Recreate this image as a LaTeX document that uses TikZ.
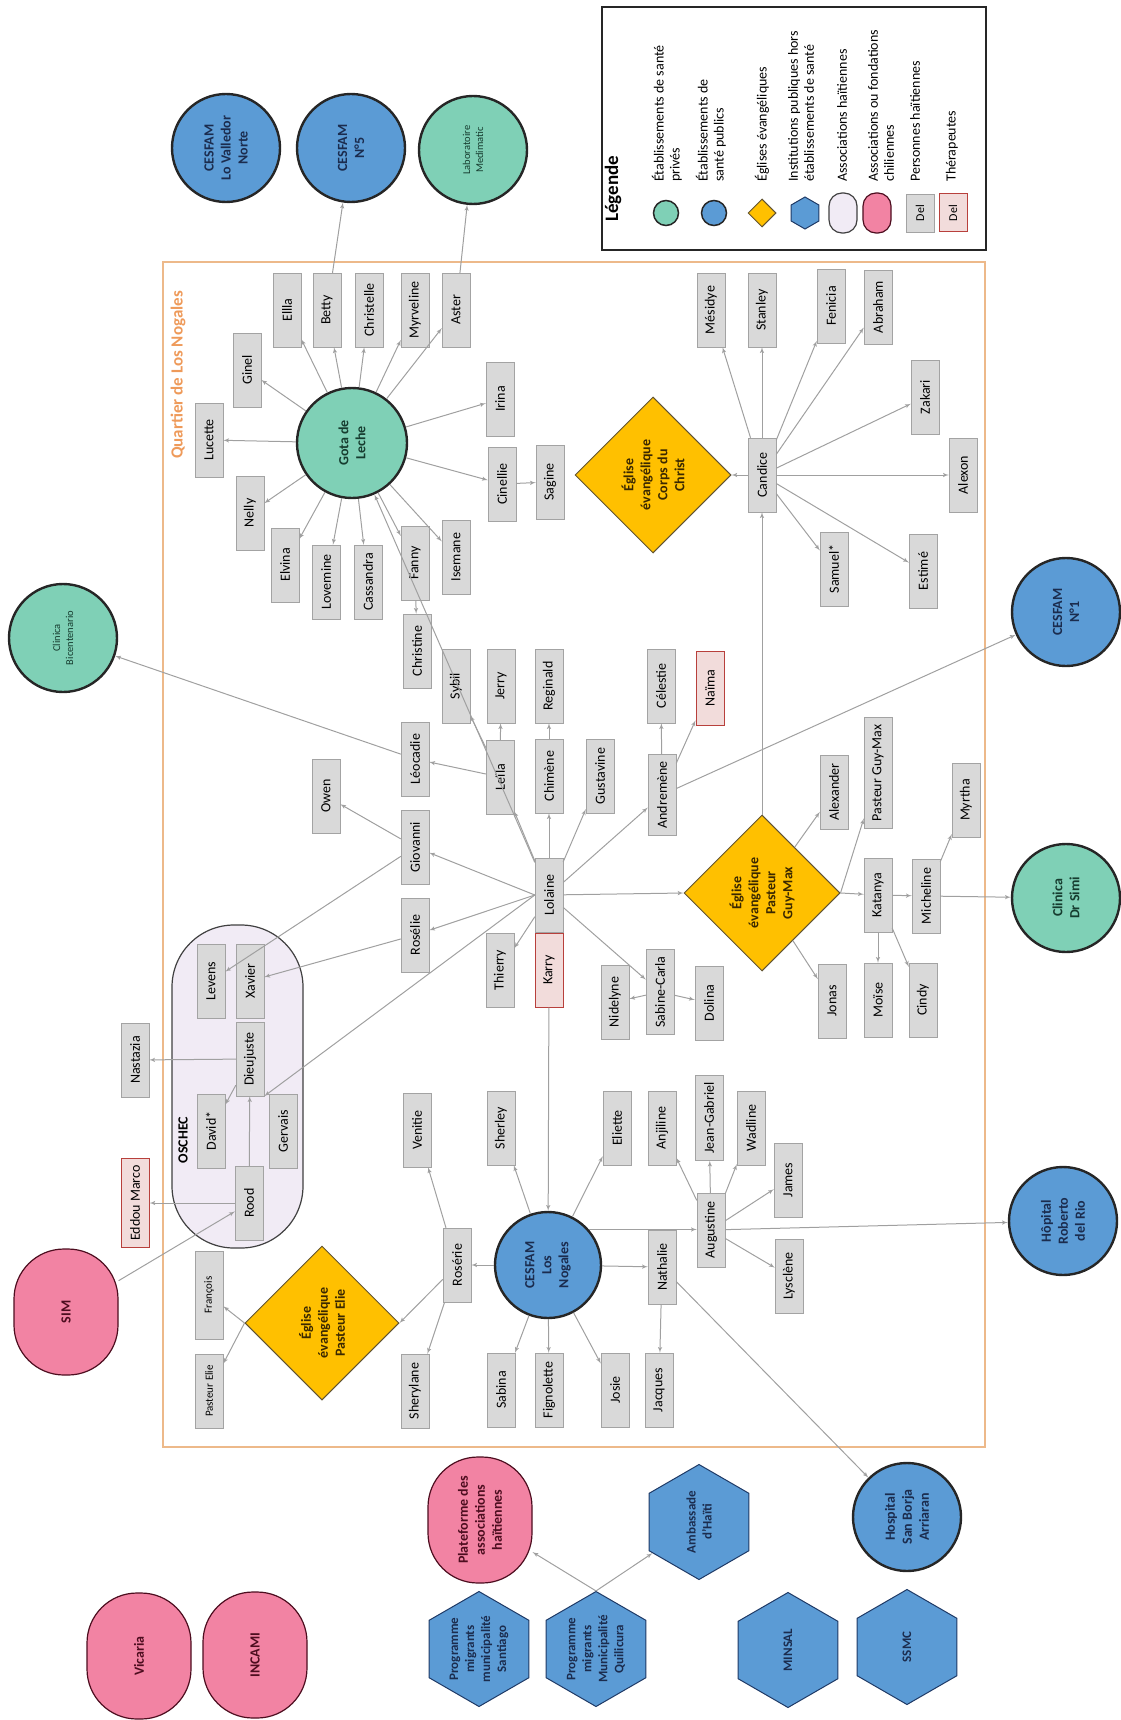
\documentclass[tikz,border=0pt]{standalone}
\usepackage{fontspec}
\setmainfont{Carlito}
\usepackage{tikz}
\usetikzlibrary{arrows, shapes}

\definecolor{privfill}{HTML}{7FD0B6}
\definecolor{pubfill}{HTML}{5B9BD5}
\definecolor{goldfill}{HTML}{FFC000}
\definecolor{pinkfill}{HTML}{F283A3}
\definecolor{lilacfill}{HTML}{F1EBF5}
\definecolor{boxfill}{HTML}{D9D9D9}
\definecolor{boxline}{HTML}{A3A3A3}
\definecolor{therafill}{HTML}{F2DCDB}
\definecolor{theraline}{HTML}{B8403C}
\definecolor{linkgray}{HTML}{A0A0A0}
\definecolor{quartierline}{HTML}{EDB98A}
\definecolor{quartiertext}{HTML}{EE9A5A}
\definecolor{navytext}{HTML}{1B2C4E}
\definecolor{greentext}{HTML}{163C2F}
\definecolor{browntext}{HTML}{3A2800}
\definecolor{maroontext}{HTML}{4D0D1F}
\definecolor{hexline}{HTML}{1F3A66}

\begin{document}
\begin{tikzpicture}
  [x=1pt, y=-1pt, > = latex',
    person/.style ={
        rectangle,
        rotate=90,
        draw=boxline,
        fill=boxfill,
        minimum width=74pt,
        minimum height=28pt,
        inner xsep=7pt, inner ysep=3pt,
        font=\fontsize{14}{16}\selectfont,
      },
    smallperson/.style ={person, font=\fontsize{11}{13}\selectfont},
    therapist/.style ={person, draw=theraline, fill=therafill, line width=1pt},
    private/.style ={
        circle,
        rotate=90,
        draw=black!85,
        line width=2.4pt,
        fill=privfill,
        minimum size=108pt,
        inner sep=1pt,
        align=center,
        text=greentext,
        font=\bfseries\fontsize{14}{17}\selectfont,
      },
    public/.style ={private, fill=pubfill, text=navytext},
    church/.style ={
        diamond,
        rotate=90,
        draw=browntext!80,
        line width=1pt,
        fill=goldfill,
        minimum size=156pt,
        inner sep=0pt,
        align=center,
        text=browntext,
        font=\bfseries\fontsize{14}{17}\selectfont,
      },
    institution/.style ={
        regular polygon, regular polygon sides=6,
        rotate=90,
        draw=hexline,
        line width=1pt,
        fill=pubfill,
        minimum size=115pt,
        inner sep=0pt,
        align=center,
        text=navytext,
        font=\bfseries\fontsize{13}{16}\selectfont,
      },
    chilean/.style ={
        rectangle,
        rounded corners=50pt,
        rotate=90,
        draw=maroontext,
        line width=1.2pt,
        fill=pinkfill,
        minimum width=126pt,
        minimum height=104pt,
        align=center,
        text=maroontext,
        font=\bfseries\fontsize{14}{17}\selectfont,
      },
    haitian/.style ={rectangle, rounded corners=62pt, rotate=90, draw=black!75, line width=1.2pt, fill=lilacfill},
    link/.style ={->, draw=linkgray, line width=1pt},
    legtext/.style ={rotate=90, anchor=west, inner sep=0pt, align=left, font=\fontsize{14}{16}\selectfont},
  ]
  \useasboundingbox (0,0) rectangle (1120,1720);

  % legend
  \draw[line width=1.5pt, draw=black!85] (602,7) rectangle (986,250);
  \node[legtext, font=\bfseries\fontsize{19}{22}\selectfont] (legtitle) at (613,222) {Légende};
  \node[private, minimum size=25pt, line width=1.5pt] (legpriv) at (666,213) {};
  \node[legtext] (legtxtpriv) at (667,182) {Établissements de santé\\privés};
  \node[public, minimum size=25pt, line width=1.5pt] (legpub) at (714,213) {};
  \node[legtext] (legtxtpub) at (711,182) {Établissements de\\santé publics};
  \node[church, minimum size=28pt] (legchurch) at (762,213) {};
  \node[legtext] (legtxtchurch) at (762,182) {Églises évangéliques};
  \node[institution, minimum size=32pt] (leginst) at (805,213) {};
  \node[legtext] (legtxtinst) at (801,182) {Institutions publiques hors\\établissements de santé};
  \node[haitian, rounded corners=13pt, minimum width=40pt, minimum height=28pt] (leghait) at (843,213) {};
  \node[legtext] (legtxthait) at (842,182) {Associations haïtiennes};
  \node[chilean, rounded corners=13pt, minimum width=40pt, minimum height=28pt] (legchil) at (877,213) {};
  \node[legtext] (legtxtchil) at (881,182) {Associations ou fondations\\chiliennes};
  \node[person, minimum width=38pt, inner xsep=2pt, font=\fontsize{12}{14}\selectfont] (legperson) at (920,213) {Del};
  \node[legtext] (legtxtperson) at (915,182) {Personnes haïtiennes};
  \node[therapist, minimum width=38pt, inner xsep=2pt, font=\fontsize{12}{14}\selectfont] (legthera) at (953,213) {Del};
  \node[legtext] (legtxtthera) at (952,182) {Thérapeutes};

  % quartier
  \draw[draw=quartierline, line width=1.2pt] (163,262) rectangle (985,1447);
  \node[rotate=90, text=quartiertext, font=\bfseries\fontsize{17}{20}\selectfont] (quartiertitle) at (178,375) {Quartier de Los Nogales};

  \node[haitian, minimum width=323pt, minimum height=131pt] (oschec) at (237.5,1086.5) {};
  \node[rotate=90, font=\bfseries\fontsize{14}{16}\selectfont] (oschectitle) at (183,1140) {OSCHEC};

  % health centres
  \node[public] (valledor) at (226,148) {CESFAM\\Lo Valledor\\Norte};
  \node[public] (cesfamfive) at (351,148) {CESFAM\\N°5};
  \node[private, font=\fontsize{10.5}{13}\selectfont] (labo) at (473,150) {Laboratoire\\Medimatic};
  \node[private, font=\fontsize{10.5}{13}\selectfont] (bicent) at (63,638) {Clinica\\Bicentenario};
  \node[public] (cesfamone) at (1066,612) {CESFAM\\N°1};
  \node[private] (drsimi) at (1066,898) {Clinica\\Dr Simi};
  \node[public] (roberto) at (1063,1221) {Hôpital\\Roberto\\del Rio};
  \node[public] (sanborja) at (907,1517) {Hospital\\San Borja\\Arriaran};
  \node[private, minimum size=110pt] (gota) at (352,443) {Gota de\\Leche};
  \node[public, minimum size=106pt] (losnogales) at (548,1265) {CESFAM\\Los\\Nogales};

  % churches
  \node[church] (corps) at (653,475) {Église\\évangélique\\Corps du\\Christ};
  \node[church] (guymax) at (762,893) {Église\\évangélique\\Pasteur\\Guy-Max};
  \node[church, minimum size=154pt] (elie) at (322,1323) {Église\\évangélique\\Pasteur Elie};

  % associations and institutions
  \node[chilean] (sim) at (66,1312) {SIM};
  \node[chilean] (vicaria) at (139,1656) {Vicaria};
  \node[chilean] (incami) at (255,1655) {INCAMI};
  \node[chilean] (plateforme) at (480,1520) {Plateforme des\\associations\\haïtiennes};
  \node[institution] (santiago) at (479,1649) {Programme\\migrants\\municipalité\\Santiago};
  \node[institution] (quilicura) at (596,1649) {Programme\\migrants\\Municipalité\\Quilicura};
  \node[institution] (ambassade) at (699,1522) {Ambassade\\d'Haïti};
  \node[institution] (minsal) at (788,1650) {MINSAL};
  \node[institution] (ssmc) at (907,1647) {SSMC};

  % people
  \node[person] (ellla) at (287,310) {Ellla};
  \node[person] (betty) at (327,310) {Betty};
  \node[person] (christelle) at (369,310) {Christelle};
  \node[person] (myrveline) at (415,310) {Myrveline};
  \node[person] (aster) at (456,310) {Aster};
  \node[person] (ginel) at (247,370) {Ginel};
  \node[person] (lucette) at (209,440) {Lucette};
  \node[person] (nelly) at (250,513) {Nelly};
  \node[person] (elvina) at (285,565) {Elvina};
  \node[person] (lovemine) at (326,582) {Lovemine};
  \node[person] (cassandra) at (368,582) {Cassandra};
  \node[person] (fanny) at (415,563) {Fanny};
  \node[person] (christine) at (417,651) {Christine};
  \node[person] (isemane) at (456,557) {Isemane};
  \node[person] (cinellie) at (502,484) {Cinellie};
  \node[person] (sagine) at (550,482) {Sagine};
  \node[person] (irina) at (500,399) {Irina};

  \node[person] (mesidye) at (711,310) {Mésidye};
  \node[person] (stanley) at (762,310) {Stanley};
  \node[person] (fenicia) at (831,306) {Fenicia};
  \node[person] (abraham) at (878,307) {Abraham};
  \node[person] (zakari) at (925,397) {Zakari};
  \node[person] (alexon) at (963,475) {Alexon};
  \node[person] (estime) at (923,571) {Estimé};
  \node[person] (samuel) at (834,569) {Samuel*};
  \node[person] (candice) at (762,475) {Candice};

  \node[person] (leocadie) at (415,759) {Léocadie};
  \node[person] (giovanni) at (415,847) {Giovanni};
  \node[person] (owen) at (326,796) {Owen};
  \node[person] (sybil) at (456,686) {Sybil};
  \node[person] (jerry) at (501,686) {Jerry};
  \node[person] (reginald) at (549,686) {Reginald};
  \node[person] (leila) at (500,777) {Leïla};
  \node[person] (chimene) at (549,776) {Chimène};
  \node[person] (gustavine) at (600,776) {Gustavine};
  \node[person] (celestie) at (661,686) {Célestie};
  \node[therapist] (naima) at (710,688) {Naïma};
  \node[person] (andremene) at (662,795) {Andremène};

  \node[person] (lolaine) at (549,895) {Lolaine};
  \node[therapist] (karry) at (549,970) {Karry};
  \node[person] (thierry) at (500,970) {Thierry};
  \node[person] (roselie) at (415,935) {Rosélie};
  \node[person] (sabinecarla) at (660,992) {Sabine-Carla};
  \node[person] (nidelyne) at (615,1002) {Nidelyne};
  \node[person] (dolina) at (709,1003) {Dolina};

  \node[person] (alexander) at (834,792) {Alexander};
  \node[person] (pasteurgm) at (878,773) {Pasteur Guy-Max};
  \node[person] (myrtha) at (966,800) {Myrtha};
  \node[person] (katanya) at (878,895) {Katanya};
  \node[person] (micheline) at (926,896) {Micheline};
  \node[person] (jonas) at (832,1001) {Jonas};
  \node[person] (moise) at (878,1000) {Moïse};
  \node[person] (cindy) at (923,1000) {Cindy};

  \node[person] (venitie) at (417,1130) {Venitie};
  \node[person] (sherley) at (501,1128) {Sherley};
  \node[person] (eliette) at (617,1128) {Eliette};
  \node[person] (anjiline) at (662,1128) {Anjiline};
  \node[person] (jeangabriel) at (709,1118) {Jean-Gabriel};
  \node[person] (wadline) at (751,1128) {Wadline};
  \node[person] (james) at (788,1180) {James};
  \node[person] (lysclene) at (789,1276) {Lysclène};
  \node[person] (augustine) at (711,1230) {Augustine};
  \node[person] (nathalie) at (662,1267) {Nathalie};
  \node[person] (roserie) at (457,1265) {Rosérie};

  \node[person] (sherylane) at (415,1391) {Sherylane};
  \node[person] (sabina) at (501,1390) {Sabina};
  \node[person] (fignolette) at (549,1390) {Fignolette};
  \node[person] (josie) at (615,1390) {Josie};
  \node[person] (jacques) at (659,1390) {Jacques};

  \node[person] (levens) at (211,981) {Levens};
  \node[person] (xavier) at (250,981) {Xavier};
  \node[person] (dieujuste) at (250,1059) {Dieujuste};
  \node[person] (david) at (211,1131) {David*};
  \node[person] (gervais) at (283,1131) {Gervais};
  \node[person] (rood) at (249,1203) {Rood};
  \node[person] (nastazia) at (135,1060) {Nastazia};
  \node[therapist] (eddou) at (135,1203) {Eddou Marco};
  \node[smallperson, minimum width=88pt] (francois) at (209,1295) {François};
  \node[smallperson] (pasteurelie) at (209,1391) {Pasteur Elie};

  % links
  \draw[link] (gota) -- (lucette);
  \draw[link] (gota) -- (ginel);
  \draw[link] (gota) -- (ellla);
  \draw[link] (gota) -- (betty);
  \draw[link] (gota) -- (christelle);
  \draw[link] (gota) -- (myrveline);
  \draw[link] (gota) -- (aster);
  \draw[link] (gota) -- (irina);
  \draw[link] (gota) -- (cinellie);
  \draw[link] (gota) -- (isemane);
  \draw[link] (gota) -- (fanny);
  \draw[link] (gota) -- (cassandra);
  \draw[link] (gota) -- (lovemine);
  \draw[link] (gota) -- (elvina);
  \draw[link] (gota) -- (nelly);
  \draw[link] (betty) -- (cesfamfive);
  \draw[link] (aster) -- (labo);
  \draw[link] (cinellie) -- (sagine);
  \draw[link] (fanny) -- (christine);

  \draw[link] (candice) -- (corps.south);
  \draw[link] (candice) -- (mesidye);
  \draw[link] (candice) -- (stanley);
  \draw[link] (candice) -- (fenicia);
  \draw[link] (candice) -- (abraham);
  \draw[link] (candice) -- (zakari);
  \draw[link] (candice) -- (alexon);
  \draw[link] (candice) -- (estime);
  \draw[link] (candice) -- (samuel);

  \draw[link] (lolaine) -- (gota);
  \draw[link] (lolaine) -- (leila);
  \draw[link] (lolaine) -- (chimene);
  \draw[link] (lolaine) -- (gustavine);
  \draw[link] (lolaine) -- (andremene);
  \draw[link] (lolaine) -- (thierry);
  \draw[link] (lolaine) -- (sabinecarla);
  \draw[link] (lolaine.north) -- (giovanni);
  \draw[link] (lolaine.north) -- (roselie);
  \draw[link] (lolaine.north) -- (dieujuste.south west);
  \draw[link] (lolaine) -- (guymax.north);
  \draw[link] (leila) -- (leocadie);
  \draw[link] (leila) -- (sybil);
  \draw[link] (leila) -- (jerry);
  \draw[link] (chimene) -- (reginald);
  \draw[link] (andremene) -- (celestie);
  \draw[link] (andremene) -- (naima);
  \draw[link] (andremene) -- (cesfamone);
  \draw[link] (leocadie) -- (bicent);
  \draw[link] (giovanni) -- (owen);
  \draw[link] (giovanni) -- (levens);
  \draw[link] (roselie) -- (xavier);
  \draw[link] (sabinecarla) -- (nidelyne);
  \draw[link] (sabinecarla) -- (dolina);
  \draw[link] (karry) -- (losnogales);

  \draw[link] (guymax.east) -- (candice);
  \draw[link] (guymax) -- (alexander);
  \draw[link] (guymax.south) -- (pasteurgm);
  \draw[link] (guymax.south) -- (katanya);
  \draw[link] (guymax) -- (jonas);
  \draw[link] (katanya) -- (micheline);
  \draw[link] (katanya) -- (moise);
  \draw[link] (katanya) -- (cindy);
  \draw[link] (micheline) -- (myrtha);
  \draw[link] (micheline) -- (drsimi);

  \draw[link] (losnogales) -- (roserie);
  \draw[link] (losnogales) -- (sherley);
  \draw[link] (losnogales) -- (eliette);
  \draw[link] (losnogales.311) -- (losnogales.311 -| augustine.north);
  \draw[link] (losnogales) -- (nathalie);
  \draw[link] (losnogales) -- (sabina);
  \draw[link] (losnogales) -- (fignolette);
  \draw[link] (losnogales) -- (josie);
  \draw[link] (augustine) -- (anjiline);
  \draw[link] (augustine) -- (jeangabriel);
  \draw[link] (augustine) -- (wadline);
  \draw[link] (augustine) -- (james);
  \draw[link] (augustine) -- (lysclene);
  \draw[link] (augustine) -- (roberto);
  \draw[link] (nathalie) -- (jacques);
  \draw[link] (nathalie) -- (sanborja);
  \draw[link] (roserie) -- (venitie);
  \draw[link] (roserie) -- (sherylane);
  \draw[link] (roserie) -- (elie.south);
  \draw[link] (elie.north) -- (francois);
  \draw[link] (elie.north) -- (pasteurelie);

  \draw[link] (rood) -- (dieujuste);
  \draw[link] (dieujuste) -- (david);
  \draw[link] (dieujuste) -- (nastazia);
  \draw[link] (rood) -- (eddou);
  \draw[link] (sim) -- (rood);

  \draw[link] (quilicura.east) -- (plateforme);
  \draw[link] (quilicura.east) -- (ambassade);
\end{tikzpicture}
\end{document}
